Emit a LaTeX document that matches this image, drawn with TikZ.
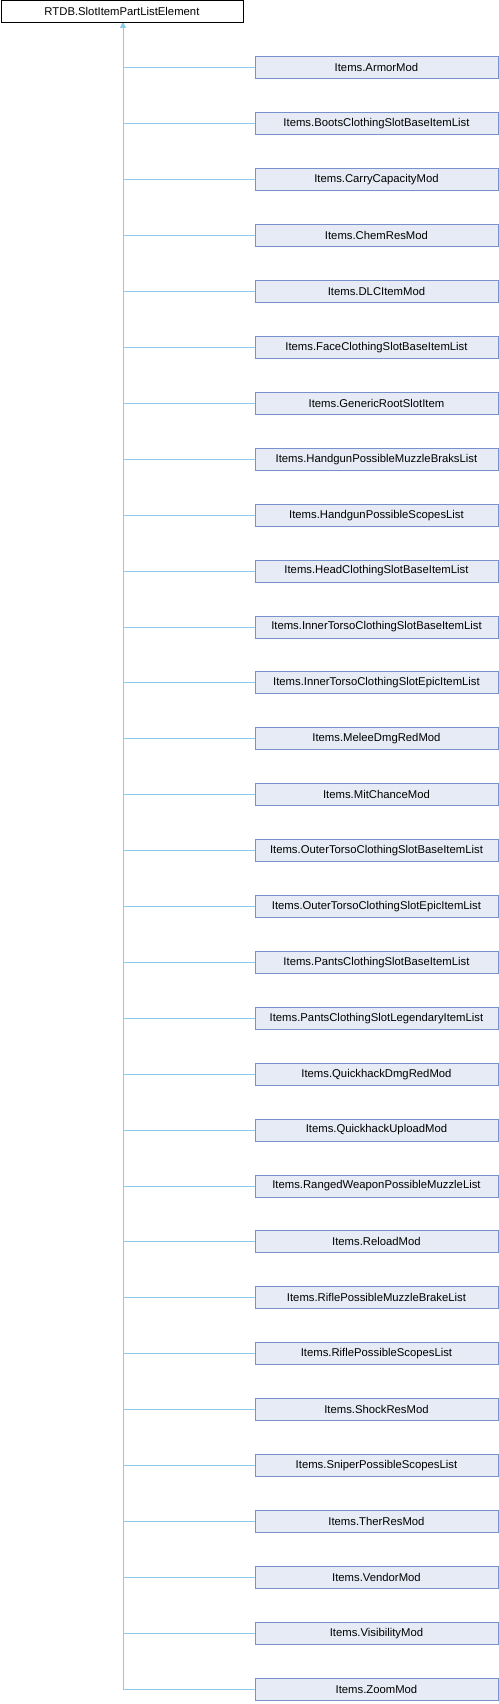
\documentclass[tikz,border=0pt]{standalone}
\usepackage{fontspec}
\setmainfont{Liberation Sans}
\usetikzlibrary{positioning,arrows.meta}
\definecolor{slotFill}{HTML}{E7EBF5}
\definecolor{slotEdge}{HTML}{7891CB}
\definecolor{slotLink}{HTML}{8CC9EB}
\begin{document}
\begin{tikzpicture}[x=1pt,y=-1pt,
      node distance=33pt,
      base/.style={draw=black,fill=white,line width=0.9pt,minimum width=242pt,minimum height=22pt,
        inner sep=0pt,font=\fontsize{11.3}{13}\selectfont,anchor=north west},
      child/.style={draw=slotEdge,fill=slotFill,line width=0.9pt,minimum width=243pt,minimum height=22pt,
        inner sep=0pt,font=\fontsize{11.3}{13}\selectfont},
      link/.style={draw=slotLink,line width=0.9pt,-{Triangle[length=5pt,width=5pt,fill=slotLink]}}]
    \useasboundingbox (0,0) rectangle (498,1704);
    \node[base] (elem) at (0.5,0.5) {RTDB.SlotItemPartListElement};
    \coordinate (trunk) at (123,23);
    \node[child,anchor=north west] (c1) at (254.5,56.5) {Items.ArmorMod};
    \foreach \name [count=\i from 2,remember=\i as \j (initially 1)] in {
        Items.BootsClothingSlotBaseItemList,Items.CarryCapacityMod,Items.ChemResMod,
        Items.DLCItemMod,Items.FaceClothingSlotBaseItemList,Items.GenericRootSlotItem,
        Items.HandgunPossibleMuzzleBraksList,Items.HandgunPossibleScopesList,
        Items.HeadClothingSlotBaseItemList,Items.InnerTorsoClothingSlotBaseItemList,
        Items.InnerTorsoClothingSlotEpicItemList,Items.MeleeDmgRedMod,Items.MitChanceMod,
        Items.OuterTorsoClothingSlotBaseItemList,Items.OuterTorsoClothingSlotEpicItemList,
        Items.PantsClothingSlotBaseItemList,Items.PantsClothingSlotLegendaryItemList,
        Items.QuickhackDmgRedMod,Items.QuickhackUploadMod,Items.RangedWeaponPossibleMuzzleList,
        Items.ReloadMod,Items.RiflePossibleMuzzleBrakeList,Items.RiflePossibleScopesList,
        Items.ShockResMod,Items.SniperPossibleScopesList,Items.TherResMod,Items.VendorMod,
        Items.VisibilityMod,Items.ZoomMod}
      \node[child,below=of c\j] (c\i) {\name};
    % inheritance connectors
    \foreach \i in {1,...,30}
      \draw[link] (c\i.west) -| (trunk);
  \end{tikzpicture}
\end{document}
